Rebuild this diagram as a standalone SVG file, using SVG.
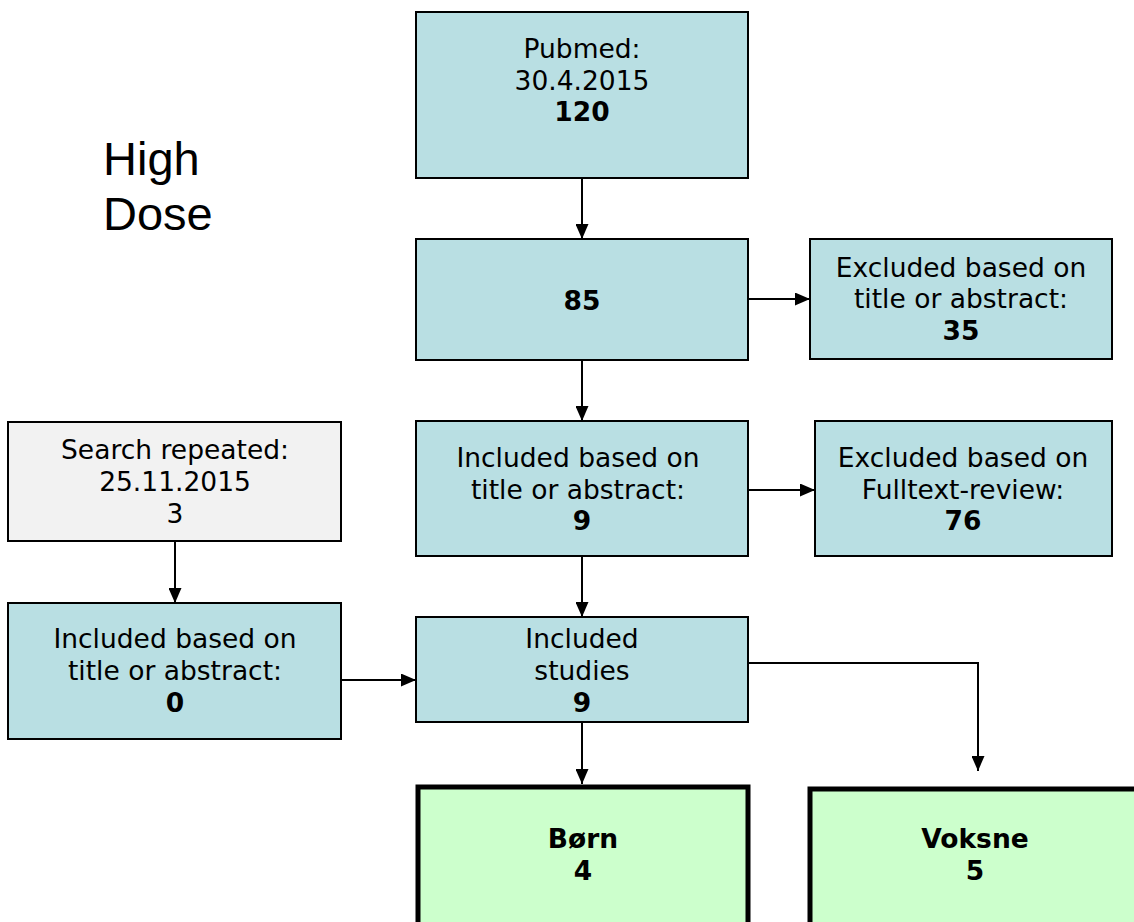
<svg xmlns="http://www.w3.org/2000/svg" width="1134" height="922" viewBox="0 0 1134 922">
  <defs>
    <marker id="arrowHead" viewBox="0 0 10 10" refX="10" refY="5" markerWidth="15" markerHeight="13" markerUnits="userSpaceOnUse" orient="auto" preserveAspectRatio="none">
      <path d="M0,0 L10,5 L0,10 z" fill="#000"/>
    </marker>
  </defs>
  <style>
    .box { fill: #b9dfe3; stroke: #000; stroke-width: 2; }
    .grey { fill: #f2f2f2; stroke: #000; stroke-width: 2; }
    .result { fill: #ccffcc; stroke: #000; stroke-width: 5; }
    .t { font-family: "DejaVu Sans", Verdana, sans-serif; font-size: 26.5px; fill: #000; text-anchor: middle; }
    .b { font-weight: bold; }
    .title { font-family: "Liberation Sans", Arial, sans-serif; font-size: 47px; fill: #000; }
    .link { fill: none; stroke: #000; stroke-width: 2; marker-end: url(#arrowHead); }
  </style>

  <rect width="1134" height="922" fill="#fff"/>

  <g id="title">
    <text class="title" x="103" y="175">High</text>
    <text class="title" x="103" y="230">Dose</text>
  </g>

  <g id="connectors">
    <path class="link" d="M582,178 V239"/>
    <path class="link" d="M748,299 H810"/>
    <path class="link" d="M582,360 V421"/>
    <path class="link" d="M748,490 H815"/>
    <path class="link" d="M582,556 V617"/>
    <path class="link" d="M175,541 V603"/>
    <path class="link" d="M341,680 H416"/>
    <path class="link" d="M748,663 H978 V771"/>
    <path class="link" d="M582,722 V784"/>
  </g>

  <g id="pubmed">
    <rect class="box" x="416" y="12" width="332" height="166"/>
    <text class="t" x="582" y="58">Pubmed:</text>
    <text class="t" x="582" y="90">30.4.2015</text>
    <text class="t b" x="582" y="121">120</text>
  </g>

  <g id="screened">
    <rect class="box" x="416" y="239" width="332" height="121"/>
    <text class="t b" x="582" y="310">85</text>
  </g>

  <g id="excluded-abstract">
    <rect class="box" x="810" y="239" width="302" height="120"/>
    <text class="t" x="961" y="277">Excluded based on</text>
    <text class="t" x="961" y="308">title or abstract:</text>
    <text class="t b" x="961" y="340">35</text>
  </g>

  <g id="search-repeated">
    <rect class="grey" x="8" y="422" width="333" height="119"/>
    <text class="t" x="175" y="459">Search repeated:</text>
    <text class="t" x="175" y="491">25.11.2015</text>
    <text class="t" x="175" y="523">3</text>
  </g>

  <g id="included-abstract">
    <rect class="box" x="416" y="421" width="332" height="135"/>
    <text class="t" x="578" y="467">Included based on</text>
    <text class="t" x="578" y="499">title or abstract:</text>
    <text class="t b" x="582" y="530">9</text>
  </g>

  <g id="excluded-fulltext">
    <rect class="box" x="815" y="421" width="297" height="135"/>
    <text class="t" x="963" y="467">Excluded based on</text>
    <text class="t" x="963" y="499">Fulltext-review:</text>
    <text class="t b" x="963" y="530">76</text>
  </g>

  <g id="included-repeat">
    <rect class="box" x="8" y="603" width="333" height="136"/>
    <text class="t" x="175" y="648">Included based on</text>
    <text class="t" x="175" y="680">title or abstract:</text>
    <text class="t b" x="175" y="712">0</text>
  </g>

  <g id="included-studies">
    <rect class="box" x="416" y="617" width="332" height="105"/>
    <text class="t" x="582" y="648">Included</text>
    <text class="t" x="582" y="680">studies</text>
    <text class="t b" x="582" y="712">9</text>
  </g>

  <g id="children">
    <rect class="result" x="418" y="787" width="330" height="140"/>
    <text class="t b" x="583" y="848">Børn</text>
    <text class="t b" x="583" y="880">4</text>
  </g>

  <g id="adults">
    <rect class="result" x="810" y="789" width="330" height="140"/>
    <text class="t b" x="975" y="848">Voksne</text>
    <text class="t b" x="975" y="880">5</text>
  </g>
</svg>
